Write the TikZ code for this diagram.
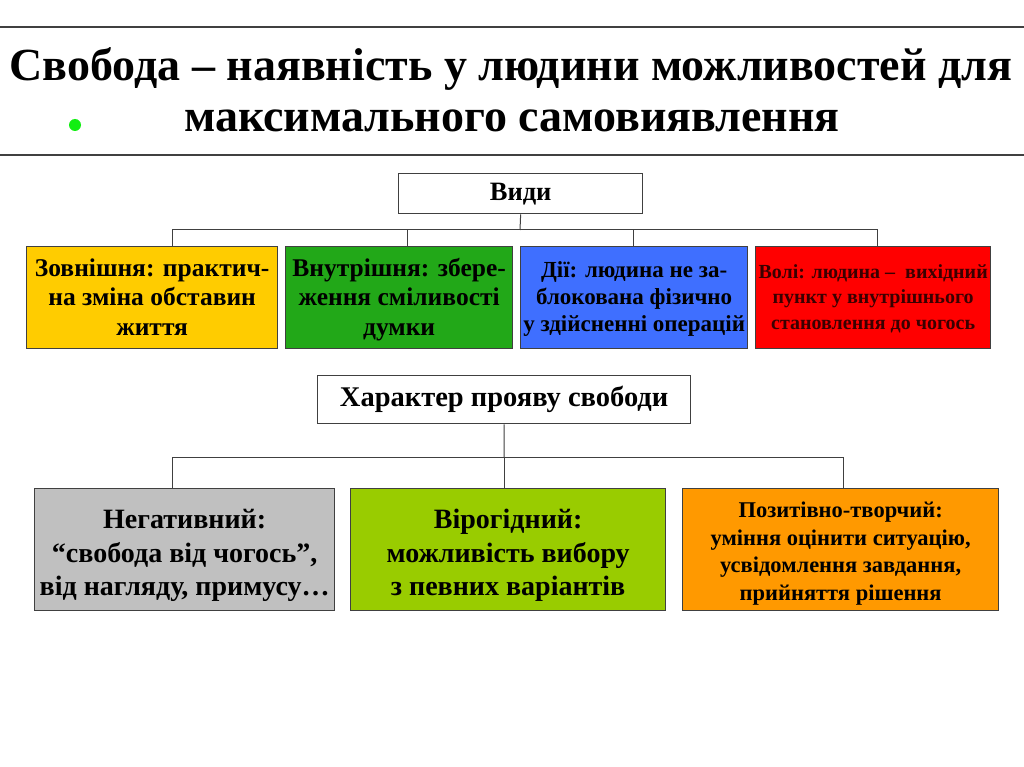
\documentclass[tikz,border=0pt]{standalone}
\usepackage{fontspec}
\setmainfont{Liberation Serif}
\definecolor{cyel}{HTML}{FFCC00}
\definecolor{cgrn}{HTML}{22A818}
\definecolor{cblu}{HTML}{3F6FFF}
\definecolor{cred}{HTML}{FF0000}
\definecolor{cgry}{HTML}{C0C0C0}
\definecolor{clim}{HTML}{99CC00}
\definecolor{corg}{HTML}{FF9900}
\definecolor{cdot}{HTML}{11EE11}
\definecolor{cline}{HTML}{404040}
\definecolor{cdred}{HTML}{3A0000}
\newcommand\lowerby[2]{\raisebox{-#1}[\height][\depth]{\begin{tabular}{@{}c@{}}#2\end{tabular}}}
\begin{document}
\begin{tikzpicture}[x=1pt,y=-1pt,
  box/.style={draw=cline, line width=1.3pt, anchor=north west, inner sep=1pt, align=center, font=\bfseries},
  conn/.style={draw=cline, line width=1pt},
  rule/.style={draw=cline, line width=1.6pt}]
\useasboundingbox (0,0) rectangle (1024,767);
\fill[white] (0,0) rectangle (1024,767);
% rules
\coordinate (r1a) at (0,27); \coordinate (r1b) at (1024,27);
\coordinate (r2a) at (0,155); \coordinate (r2b) at (1024,155);
\draw[rule] (r1a) -- (r1b);
\draw[rule] (r2a) -- (r2b);
% title
\node[font=\bfseries\fontsize{46}{50}\selectfont, inner sep=0pt] (t1) at (511,69) {Свобода – наявність у людини можливостей для};
\node[font=\bfseries\fontsize{46}{50}\selectfont, inner sep=0pt] (t2) at (512,121) {максимального самовиявлення};
\fill[cdot] (75,125) circle (6);
% Vidy
\node[box, fill=white, minimum width=244pt, minimum height=40pt, font=\bfseries\fontsize{26.5}{30}\selectfont] (vidy) at (398,173) {Види};
\coordinate (bus1) at (520,230);
\node[box, fill=cyel, minimum width=251pt, minimum height=102pt, font=\bfseries\fontsize{25.5}{29.5}\selectfont] (b1) at (26,246) {\lowerby{2pt}{Зовнішня: практич-\\на зміна обставин\\життя}};
\node[box, fill=cgrn, minimum width=227pt, minimum height=102pt, font=\bfseries\fontsize{25.5}{29.5}\selectfont] (b2) at (285,246) {\lowerby{2pt}{Внутрішня: збере-\\ження сміливості\\думки}};
\node[box, fill=cblu, minimum width=227pt, minimum height=102pt, font=\bfseries\fontsize{23}{27}\selectfont] (b3) at (520,246) {\lowerby{1pt}{Дії: людина не за-\\блокована фізично\\у здійсненні операцій}};
\node[box, fill=cred, text=cdred, minimum width=235pt, minimum height=102pt, font=\bfseries\fontsize{20}{25.5}\selectfont] (b4) at (755,246) {\lowerby{1pt}{Волі: людина –\ \ вихідний\\пункт у внутрішнього\\становлення до чогось}};
\draw[conn] (vidy.south) -- (bus1);
\draw[conn] ([xshift=146pt]b1.north west) |- (bus1);
\draw[conn] ([xshift=122pt]b2.north west) |- (bus1);
\draw[conn] ([xshift=113pt]b3.north west) |- (bus1);
\draw[conn] ([xshift=122pt]b4.north west) |- (bus1);
% Character
\node[box, fill=white, minimum width=373pt, minimum height=48pt, font=\bfseries\fontsize{28.5}{32}\selectfont] (ch) at (317,375) {Характер прояву свободи};
\coordinate (bus2) at (504,457);
\node[box, fill=cgry, minimum width=300pt, minimum height=122pt, font=\bfseries\fontsize{28}{33.5}\selectfont] (n1) at (34,488) {\lowerby{6pt}{Негативний:\\“свобода від чогось”,\\від нагляду, примусу…}};
\node[box, fill=clim, minimum width=315pt, minimum height=122pt, font=\bfseries\fontsize{28}{33.5}\selectfont] (n2) at (350,488) {\lowerby{6pt}{Вірогідний:\\можливість вибору\\з певних варіантів}};
\node[box, fill=corg, minimum width=316pt, minimum height=122pt, font=\bfseries\fontsize{22.5}{27.5}\selectfont] (n3) at (682,488) {\lowerby{4pt}{Позитівно-творчий:\\уміння оцінити ситуацію,\\усвідомлення завдання,\\прийняття рішення}};
\draw[conn] (ch.south) -- (bus2);
\draw[conn] ([xshift=138pt]n1.north west) |- (bus2);
\draw[conn] ([xshift=154pt]n2.north west) |- (bus2);
\draw[conn] ([xshift=161pt]n3.north west) |- (bus2);
\end{tikzpicture}
\end{document}
